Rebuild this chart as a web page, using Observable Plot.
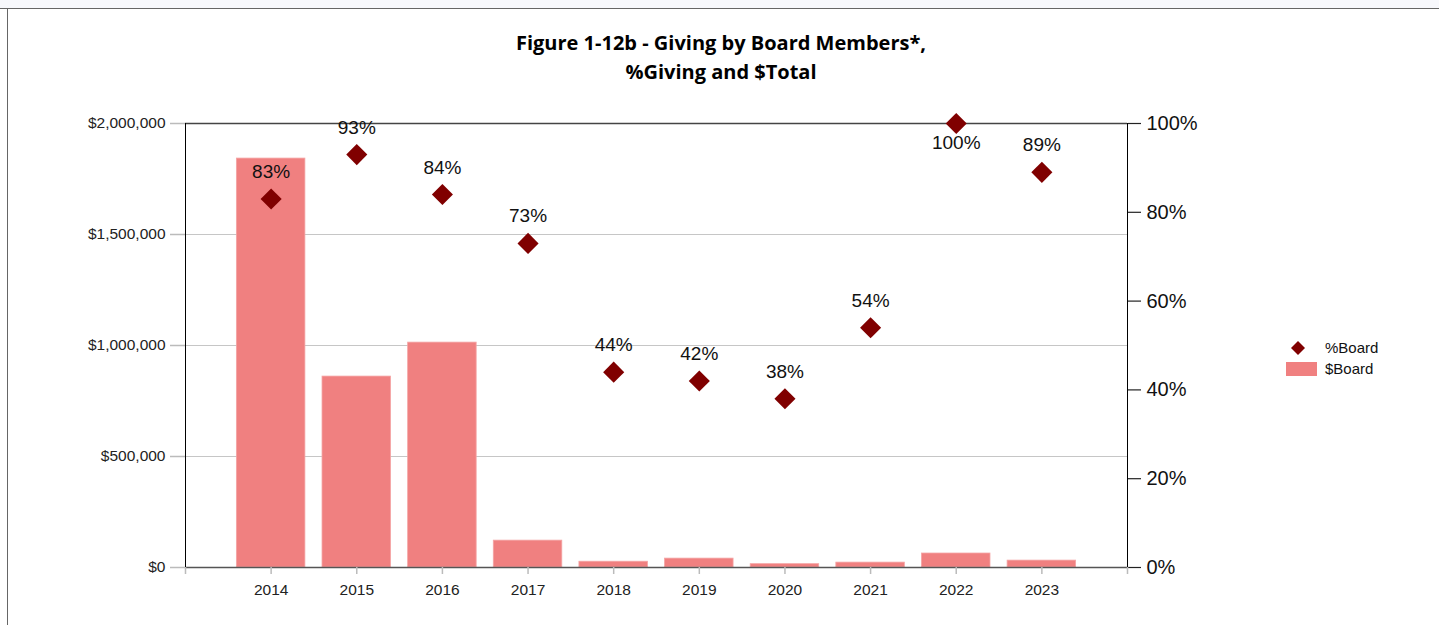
<!DOCTYPE html>
<html>
<head>
<meta charset="utf-8">
<script src="https://cdn.jsdelivr.net/npm/d3@7"></script>
<script src="https://cdn.jsdelivr.net/npm/@observablehq/plot@0.6"></script>
<style>
  html, body { margin: 0; padding: 0; background: #fff; }
  #wrap { position: relative; width: 1439px; height: 625px; overflow: hidden; font-family: "Liberation Sans", Arial, sans-serif; }
  #strip { position: absolute; left: 0; top: 0; width: 1439px; height: 8px; background: #f7f8fc; border-bottom: 1px solid #666; }
  #leftline { position: absolute; left: 7px; top: 8px; width: 1px; height: 617px; background: #666; }
  #title { position: absolute; left: 421px; width: 600px; top: 28px; text-align: center; font-family: "Open Sans", sans-serif; font-weight: 700; font-size: 20px; line-height: 29px; color: #000; }
  #chart { position: absolute; left: 0; top: 0; }
  .leg { position: absolute; font-size: 15px; color: #111; }
</style>
</head>
<body>
<div id="wrap">
  <div id="strip"></div>
  <div id="leftline"></div>
  <div id="chart"></div>
  <div id="title">Figure 1-12b - Giving by Board Members*,<br>%Giving and $Total</div>
  <div id="legend"></div>
</div>
<script>
const years = [2014, 2015, 2016, 2017, 2018, 2019, 2020, 2021, 2022, 2023];
const boardDollars = [1842000, 860000, 1013000, 121000, 26000, 40000, 15000, 22000, 63000, 31000];
const boardPct = [83, 93, 84, 73, 44, 42, 38, 54, 100, 89];
const leftTicks = [0, 500000, 1000000, 1500000, 2000000];
const rightTicks = [0, 20, 40, 60, 80, 100];
const xTickMarks = [2013, 2014, 2015, 2016, 2017, 2018, 2019, 2020, 2021, 2022, 2023, 2024];
const seriesNames = ["%Board", "$Board"];

const barColor = "#F08080";
const dotColor = "#800000";
const pctToY = p => p / 100 * 2000000;

const data = years.map((year, i) => ({ year, dollars: boardDollars[i], pct: boardPct[i] }));

const chart = Plot.plot({
  width: 1439,
  height: 625,
  marginLeft: 185,
  marginRight: 312,
  marginTop: 123,
  marginBottom: 58,
  style: { fontFamily: "'Liberation Sans', Arial, sans-serif", background: "transparent", overflow: "visible" },
  x: { type: "linear", domain: [2013, 2024], axis: null },
  y: { domain: [0, 2000000], axis: null },
  marks: [
    Plot.ruleY(leftTicks.slice(1, -1), { stroke: "#c6c6c6", strokeWidth: 1 }),
    Plot.rectY(data, { x1: d => d.year - 0.4, x2: d => d.year + 0.4, y: "dollars", fill: barColor, stroke: "#f4a4a4", strokeWidth: 0.8 }),
    Plot.ruleY([2000000], { stroke: "#444", strokeWidth: 1.5 }),
    Plot.ruleY([0], { stroke: "#555", strokeWidth: 1.5 }),
    Plot.ruleX([2013, 2024], { stroke: "#000", strokeWidth: 1 }),
    Plot.axisY(leftTicks, { anchor: "left", label: null, tickSize: 15, tickPadding: 5, stroke: "#bbb", strokeWidth: 1.5, fill: "#222", fontSize: 15.5, tickFormat: d3.format("$,") }),
    Plot.axisY(rightTicks.map(pctToY), { anchor: "right", label: null, tickSize: 13, tickPadding: 6, stroke: "#222", strokeWidth: 1.2, fill: "#111", fontSize: 20, tickFormat: d => Math.round(d / 20000) + "%" }),
    Plot.axisX(xTickMarks, { anchor: "bottom", label: null, tickSize: 7, stroke: "#bbb", strokeWidth: 1.5, fill: "none", tickFormat: () => "" }),
    Plot.axisX(years, { anchor: "bottom", label: null, tickSize: 7, tickPadding: 9, stroke: "none", fill: "#222", fontSize: 15.5, tickFormat: d => String(d) }),
    Plot.dot(data, { x: "year", y: d => pctToY(d.pct), symbol: "diamond2", r: 9.5, fill: dotColor, stroke: "none" }),
    Plot.text(data.filter(d => d.pct < 100), { x: "year", y: d => pctToY(d.pct), text: d => d.pct + "%", dy: -27, fontSize: 19, fill: "#111" }),
    Plot.text(data.filter(d => d.pct >= 100), { x: "year", y: d => pctToY(d.pct), text: d => d.pct + "%", dy: 19, fontSize: 19, fill: "#111" })
  ]
});
document.getElementById("chart").appendChild(chart);

// legend
const legend = document.getElementById("legend");
legend.innerHTML = `
  <svg style="position:absolute;left:1290px;top:340px" width="16" height="16"><path d="M8,1 L15,8 L8,15 L1,8 Z" fill="${dotColor}"/></svg>
  <div class="leg" style="left:1325px;top:339px">${seriesNames[0]}</div>
  <div style="position:absolute;left:1286px;top:362px;width:31px;height:14px;background:${barColor}"></div>
  <div class="leg" style="left:1325px;top:360px">${seriesNames[1]}</div>
`;
</script>
</body>
</html>
